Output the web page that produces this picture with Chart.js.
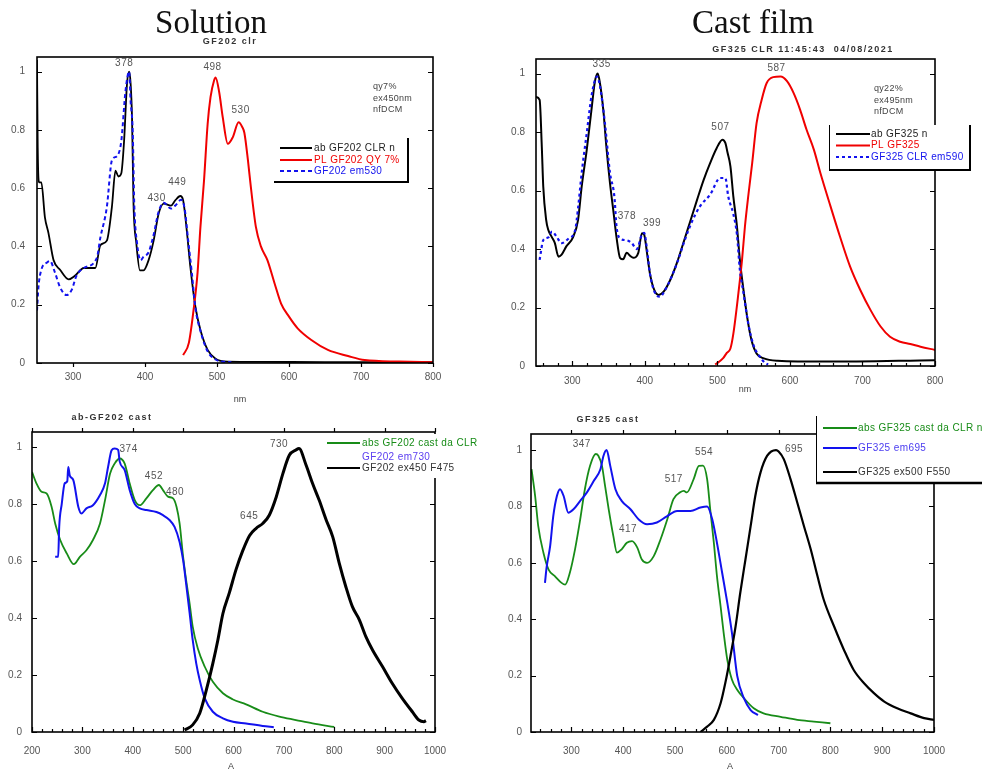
<!DOCTYPE html>
<html>
<head>
<meta charset="utf-8">
<title>GF202 / GF325 spectra</title>
<script src="https://cdn.jsdelivr.net/npm/chart.js@4.4.0/dist/chart.umd.min.js"></script>
<style>
  body { margin: 0; background: #fff; }
  #page { position: relative; width: 982px; height: 771px; overflow: hidden; background: #fff; }
  #page canvas { position: absolute; }
</style>
</head>
<body>
<div id="page">
  <canvas id="solution" width="491" height="410" style="left:0;top:0"></canvas>
  <canvas id="film" width="491" height="410" style="left:491px;top:0"></canvas>
  <canvas id="cast202" width="491" height="371" style="left:0;top:400px"></canvas>
  <canvas id="cast325" width="491" height="371" style="left:491px;top:400px"></canvas>
</div>
<script>
// ---- GF202 in solution (CLR) ----
const solAbsNm  = [250, 251, 253, 256, 261, 266, 273, 282, 294, 303, 315, 325, 331, 338, 347, 354, 359, 363, 367, 371, 375, 378, 380, 382, 384, 388, 393, 398, 405, 412, 419, 426, 436, 442, 449, 453, 458, 463, 470, 477, 487, 498, 515, 560, 650, 800];
const solAbsVal = [1.04, 0.74, 0.62, 0.62, 0.50, 0.445, 0.353, 0.32, 0.287, 0.30, 0.326, 0.326, 0.326, 0.404, 0.42, 0.535, 0.66, 0.64, 0.65, 0.764, 0.958, 1.0, 0.96, 0.84, 0.55, 0.41, 0.318, 0.318, 0.353, 0.42, 0.513, 0.547, 0.54, 0.558, 0.573, 0.558, 0.455, 0.33, 0.193, 0.113, 0.045, 0.015, 0.005, 0.004, 0.003, 0.003];
const solPlNm   = [453, 461, 468, 473, 477, 482, 487, 491, 496, 498, 503, 508, 515, 522, 530, 535, 538, 543, 547, 554, 561, 570, 580, 589, 600, 612, 631, 654, 682, 705, 753, 800];
const solPlVal  = [0.027, 0.07, 0.193, 0.31, 0.467, 0.627, 0.82, 0.912, 0.97, 0.98, 0.93, 0.843, 0.752, 0.775, 0.826, 0.81, 0.79, 0.695, 0.604, 0.467, 0.40, 0.353, 0.273, 0.204, 0.159, 0.119, 0.079, 0.045, 0.024, 0.01, 0.005, 0.003];
const solExNm   = [250, 252, 256, 264, 268, 275, 282, 291, 298, 305, 315, 333, 338, 347, 354, 361, 367, 373, 378, 380, 383, 385, 389, 394, 398, 405, 412, 419, 426, 436, 442, 450, 455, 460, 465, 470, 477, 487, 498, 510, 520];
const solExVal  = [0.18, 0.26, 0.32, 0.345, 0.35, 0.31, 0.26, 0.233, 0.25, 0.30, 0.326, 0.36, 0.43, 0.535, 0.695, 0.71, 0.76, 0.935, 1.0, 0.9, 0.79, 0.55, 0.41, 0.353, 0.365, 0.38, 0.44, 0.52, 0.55, 0.53, 0.54, 0.56, 0.53, 0.42, 0.31, 0.19, 0.11, 0.04, 0.012, 0.004, 0.003];

// ---- GF325 cast film ----
const filmAbsNm  = [250, 255, 258, 260, 264, 267, 272, 276, 281, 285, 292, 301, 308, 313, 320, 327, 331, 335, 338, 343, 347, 352, 357, 361, 366, 370, 375, 380, 384, 391, 396, 399, 403, 407, 413, 419, 426, 435, 444, 453, 462, 472, 481, 490, 499, 507, 511, 514, 518, 522, 527, 531, 536, 541, 547, 554, 564, 583, 650, 800];
const filmAbsVal = [0.92, 0.91, 0.75, 0.614, 0.50, 0.465, 0.44, 0.42, 0.374, 0.38, 0.41, 0.44, 0.50, 0.614, 0.74, 0.888, 0.97, 1.0, 0.97, 0.87, 0.75, 0.625, 0.523, 0.44, 0.369, 0.365, 0.387, 0.376, 0.37, 0.387, 0.454, 0.45, 0.387, 0.317, 0.26, 0.243, 0.254, 0.294, 0.351, 0.42, 0.49, 0.568, 0.636, 0.694, 0.745, 0.774, 0.763, 0.73, 0.683, 0.58, 0.477, 0.363, 0.26, 0.169, 0.089, 0.043, 0.026, 0.018, 0.015, 0.02];
const filmPlNm   = [497, 508, 513, 518, 522, 529, 534, 538, 543, 548, 554, 561, 568, 577, 587, 596, 605, 614, 623, 633, 642, 656, 669, 683, 697, 711, 725, 738, 752, 766, 780, 800];
const filmPlVal  = [0.005, 0.027, 0.045, 0.06, 0.11, 0.249, 0.363, 0.477, 0.59, 0.694, 0.83, 0.91, 0.968, 0.988, 0.99, 0.974, 0.934, 0.877, 0.808, 0.74, 0.66, 0.546, 0.443, 0.34, 0.26, 0.192, 0.135, 0.10, 0.083, 0.075, 0.066, 0.055];
const filmExNm   = [255, 260, 267, 272, 279, 285, 295, 304, 308, 313, 320, 327, 334, 338, 345, 352, 358, 361, 366, 375, 382, 389, 396, 399, 403, 407, 414, 421, 428, 437, 446, 455, 465, 476, 490, 504, 511, 515, 522, 527, 531, 536, 543, 550, 559, 566, 570];
const filmExVal  = [0.363, 0.43, 0.44, 0.46, 0.44, 0.42, 0.436, 0.465, 0.54, 0.66, 0.797, 0.93, 0.99, 0.96, 0.83, 0.66, 0.58, 0.477, 0.436, 0.43, 0.42, 0.40, 0.45, 0.455, 0.40, 0.317, 0.25, 0.237, 0.26, 0.306, 0.363, 0.43, 0.494, 0.546, 0.586, 0.643, 0.643, 0.58, 0.52, 0.45, 0.33, 0.25, 0.14, 0.07, 0.03, 0.01, 0.005];

// ---- ab-GF202 cast ----
const c202AbsNm  = [200, 209, 219, 229, 239, 246, 256, 269, 283, 295, 308, 321, 335, 345, 355, 364, 374, 384, 394, 404, 414, 427, 440, 452, 460, 470, 480, 487, 493, 500, 506, 513, 519, 529, 543, 559, 579, 598, 625, 658, 691, 724, 757, 800];
const c202AbsVal = [0.913, 0.872, 0.843, 0.837, 0.79, 0.732, 0.674, 0.627, 0.589, 0.615, 0.638, 0.674, 0.732, 0.814, 0.907, 0.942, 0.96, 0.942, 0.872, 0.814, 0.796, 0.82, 0.849, 0.867, 0.849, 0.826, 0.82, 0.79, 0.732, 0.615, 0.533, 0.45, 0.37, 0.294, 0.229, 0.176, 0.136, 0.115, 0.097, 0.071, 0.054, 0.042, 0.03, 0.018];
const c202EmNm   = [246, 252, 254, 259, 265, 270, 272, 275, 282, 292, 298, 308, 321, 335, 345, 351, 358, 364, 371, 374, 384, 394, 404, 414, 427, 447, 460, 473, 483, 493, 500, 506, 513, 519, 526, 533, 543, 559, 579, 599, 625, 658, 680];
const c202EmVal  = [0.615, 0.615, 0.72, 0.80, 0.873, 0.88, 0.93, 0.90, 0.884, 0.79, 0.767, 0.785, 0.796, 0.832, 0.873, 0.93, 0.989, 0.995, 0.99, 0.95, 0.919, 0.849, 0.80, 0.785, 0.779, 0.772, 0.761, 0.744, 0.72, 0.667, 0.603, 0.52, 0.416, 0.323, 0.241, 0.182, 0.118, 0.071, 0.048, 0.036, 0.03, 0.021, 0.017];
const c202PlNm   = [503, 519, 533, 546, 559, 569, 579, 592, 605, 618, 632, 645, 658, 671, 685, 698, 711, 724, 730, 744, 757, 770, 784, 797, 810, 823, 836, 850, 863, 876, 896, 915, 935, 955, 968, 978, 982];
const c202PlVal  = [0.007, 0.025, 0.066, 0.147, 0.241, 0.323, 0.416, 0.49, 0.57, 0.635, 0.69, 0.715, 0.732, 0.761, 0.826, 0.907, 0.972, 0.99, 0.995, 0.937, 0.872, 0.814, 0.744, 0.685, 0.592, 0.51, 0.44, 0.393, 0.334, 0.288, 0.229, 0.171, 0.118, 0.071, 0.042, 0.036, 0.04];

// ---- GF325 cast ----
const c325AbsNm  = [223, 230, 236, 246, 256, 268, 281, 288, 297, 307, 317, 326, 336, 347, 352, 359, 365, 372, 381, 388, 397, 407, 417, 427, 436, 446, 459, 472, 485, 497, 510, 517, 523, 536, 546, 554, 562, 568, 575, 581, 588, 594, 601, 610, 620, 633, 652, 671, 704, 736, 768, 800];
const c325AbsVal = [0.932, 0.837, 0.73, 0.636, 0.576, 0.553, 0.529, 0.523, 0.565, 0.648, 0.754, 0.861, 0.944, 0.986, 0.98, 0.944, 0.873, 0.79, 0.695, 0.636, 0.648, 0.671, 0.677, 0.655, 0.612, 0.60, 0.624, 0.683, 0.754, 0.826, 0.85, 0.855, 0.85, 0.897, 0.944, 0.945, 0.897, 0.79, 0.671, 0.553, 0.446, 0.351, 0.256, 0.185, 0.15, 0.12, 0.084, 0.066, 0.054, 0.043, 0.037, 0.031];
const c325EmNm   = [249, 252, 259, 265, 272, 278, 285, 294, 304, 317, 330, 343, 356, 362, 368, 375, 385, 397, 414, 430, 446, 465, 485, 504, 530, 549, 562, 572, 581, 591, 601, 610, 620, 633, 646, 660];
const c325EmVal  = [0.529, 0.582, 0.66, 0.766, 0.837, 0.861, 0.837, 0.778, 0.79, 0.82, 0.85, 0.89, 0.932, 0.98, 1.0, 0.944, 0.861, 0.82, 0.79, 0.754, 0.737, 0.743, 0.766, 0.784, 0.784, 0.796, 0.80, 0.754, 0.671, 0.565, 0.458, 0.351, 0.2, 0.12, 0.078, 0.06];
const c325PlNm   = [549, 562, 575, 588, 597, 607, 617, 626, 636, 646, 655, 665, 678, 695, 700, 710, 723, 736, 749, 762, 775, 787, 807, 826, 845, 865, 884, 904, 929, 955, 981, 1000];
const c325PlVal  = [0.0, 0.019, 0.043, 0.102, 0.173, 0.268, 0.375, 0.494, 0.612, 0.73, 0.837, 0.92, 0.98, 1.0, 0.995, 0.968, 0.897, 0.814, 0.73, 0.648, 0.553, 0.47, 0.375, 0.292, 0.22, 0.173, 0.138, 0.108, 0.084, 0.066, 0.049, 0.043];

// axis ticks
const yTicks    = [0, 0.2, 0.4, 0.6, 0.8, 1];
const topXTicks = [300, 400, 500, 600, 700, 800];
const botXTicks = [200, 300, 400, 500, 600, 700, 800, 900, 1000];

const BLACK = '#000', RED = '#f00000', BLUE = '#1212ee', GREEN = '#188c18';
const SANS = '"Liberation Sans", Arial, sans-serif';

const pts = (xs, ys) => xs.map((x, i) => ({ x: x, y: ys[i] }));

function series(label, xs, ys, color, width, extra) {
  return Object.assign({
    label: label, data: pts(xs, ys), xs: xs, ys: ys,
    borderColor: color, borderWidth: width, pointRadius: 0, fill: false,
    cubicInterpolationMode: 'monotone'
  }, extra || {});
}

// value of a series at a given wavelength (linear between samples)
function valueAt(ds, nm) {
  const xs = ds.xs, ys = ds.ys;
  for (let i = 1; i < xs.length; i++) {
    if (nm <= xs[i]) {
      const t = (nm - xs[i - 1]) / (xs[i] - xs[i - 1]);
      return ys[i - 1] + t * (ys[i] - ys[i - 1]);
    }
  }
  return ys[ys.length - 1];
}

function drawText(ctx, s, x, y, font, color, align, spacing) {
  ctx.font = font;
  ctx.fillStyle = color;
  ctx.textAlign = align || 'center';
  ctx.textBaseline = 'middle';
  ctx.letterSpacing = spacing || '0px';
  ctx.fillText(s, x, y);
  ctx.letterSpacing = '0px';
}

// frame, tick marks, labels and the little legend box
function makeDecor(p) {
  return {
    id: 'decor',
    afterDraw(chart) {
      const ctx = chart.ctx, a = chart.chartArea;
      const xs = chart.scales.x, ys = chart.scales.y;
      const ox = p.left, oy = p.top;
      ctx.save();

      ctx.strokeStyle = '#000';
      ctx.lineWidth = 1.6;
      ctx.strokeRect(a.left, a.top, a.right - a.left, a.bottom - a.top);

      ctx.lineWidth = 1.2;
      ctx.beginPath();
      p.yTicks.forEach(v => {
        const y = Math.round(ys.getPixelForValue(v)) + 0.5;
        ctx.moveTo(a.left, y); ctx.lineTo(a.left + 5, y);
        ctx.moveTo(a.right, y); ctx.lineTo(a.right - 5, y);
      });
      p.xTicks.forEach(v => {
        const x = Math.round(xs.getPixelForValue(v)) + 0.5;
        if (p.bottomOut) { ctx.moveTo(x, a.bottom); ctx.lineTo(x, a.bottom + 4); }
        else { ctx.moveTo(x, a.bottom); ctx.lineTo(x, a.bottom - 5); }
        if (p.topTicks) { ctx.moveTo(x, a.top); ctx.lineTo(x, a.top - 4); }
      });
      if (p.minor) {
        for (let v = Math.ceil(xs.min / p.minor) * p.minor; v < xs.max; v += p.minor) {
          const x = Math.round(xs.getPixelForValue(v)) + 0.5;
          ctx.moveTo(x, a.bottom); ctx.lineTo(x, a.bottom - 3);
        }
      }
      ctx.stroke();

      if (p.heading) drawText(ctx, p.heading.t, p.heading.x - ox, p.heading.y - oy, '33px "Liberation Serif", serif', '#111');
      drawText(ctx, p.title.t, p.title.x - ox, p.title.y - oy, 'bold 9px ' + SANS, '#333', 'center', '1.5px');
      drawText(ctx, p.axisTitle.t, p.axisTitle.x - ox, p.axisTitle.y - oy, '9px ' + SANS, '#444');

      if (p.info) {
        p.info.lines.forEach((s, i) => {
          drawText(ctx, s, p.info.x - ox, p.info.y - oy + i * 11.5, '9px ' + SANS, '#444', 'left', '0.3px');
        });
      }

      // peak wavelengths, written above the curve they belong to
      p.peaks.forEach(pk => {
        const ds = chart.data.datasets[pk.ds];
        const x = xs.getPixelForValue(pk.nm) + pk.dx;
        const y = ys.getPixelForValue(valueAt(ds, pk.nm)) + pk.dy;
        drawText(ctx, String(pk.nm), x, y, '10px ' + SANS, '#555', 'center', '0.5px');
      });

      const lg = p.legend;
      const bx = lg.x - ox, by = lg.y - oy;
      ctx.fillStyle = '#fff';
      ctx.fillRect(bx, by, lg.w, lg.h);
      ctx.strokeStyle = '#000';
      if (lg.left) { ctx.lineWidth = lg.left; ctx.beginPath(); ctx.moveTo(bx + 0.5, by); ctx.lineTo(bx + 0.5, by + lg.h); ctx.stroke(); }
      if (lg.right) { ctx.lineWidth = lg.right; ctx.beginPath(); ctx.moveTo(bx + lg.w, by); ctx.lineTo(bx + lg.w, by + lg.h); ctx.stroke(); }
      if (lg.bottom) { ctx.lineWidth = lg.bottom; ctx.beginPath(); ctx.moveTo(bx, by + lg.h); ctx.lineTo(bx + lg.w + 1, by + lg.h); ctx.stroke(); }
      chart.data.datasets.forEach((ds, i) => {
        const y = by + lg.rows[i];
        if (!ds.noSample) {
          ctx.strokeStyle = ds.borderColor;
          ctx.lineWidth = 2;
          ctx.setLineDash(ds.borderDash || []);
          ctx.beginPath();
          ctx.moveTo(bx + lg.line[0], y);
          ctx.lineTo(bx + lg.line[1], y);
          ctx.stroke();
          ctx.setLineDash([]);
        }
        drawText(ctx, ds.label, bx + lg.tx, y, '10px ' + SANS, ds.textColor || ds.borderColor, 'left', '0.4px');
      });

      ctx.restore();
    }
  };
}

function makeChart(canvasId, p) {
  return new Chart(document.getElementById(canvasId), {
    type: 'line',
    data: { datasets: p.datasets },
    options: {
      responsive: false,
      animation: false,
      devicePixelRatio: 1,
      layout: { autoPadding: false, padding: p.padding },
      plugins: { legend: { display: false }, tooltip: { enabled: false } },
      scales: {
        x: {
          type: 'linear', min: p.xMin, max: p.xMax,
          grid: { display: false, drawTicks: false }, border: { display: false },
          ticks: { font: { family: SANS, size: 10 }, color: '#555', padding: p.xPad, maxRotation: 0, autoSkip: false, callback: v => String(v) },
          afterBuildTicks: s => { s.ticks = p.xTicks.map(v => ({ value: v })); },
          afterFit: s => { s.height = 30; }
        },
        y: {
          type: 'linear', min: 0, max: p.yMax,
          grid: { display: false, drawTicks: false }, border: { display: false },
          ticks: { font: { family: SANS, size: 10 }, color: '#555', padding: p.yPad, callback: v => String(Math.round(v * 10) / 10) },
          afterBuildTicks: s => { s.ticks = p.yTicks.map(v => ({ value: v })); },
          afterFit: s => { s.width = 30; }
        }
      }
    },
    plugins: [makeDecor(p)]
  });
}

// top left: solution
makeChart('solution', {
  left: 0, top: 0,
  padding: { left: 7, top: 57, right: 58, bottom: 17 },
  xMin: 250, xMax: 800, yMax: 1.05, xTicks: topXTicks, yTicks: yTicks,
  xPad: 8, yPad: 12, bottomOut: true,
  heading: { t: 'Solution', x: 211, y: 24 },
  title: { t: 'GF202 clr', x: 230, y: 42 },
  axisTitle: { t: 'nm', x: 240, y: 400 },
  info: { lines: ['qy7%', 'ex450nm', 'nfDCM'], x: 373, y: 87 },
  peaks: [
    { ds: 2, nm: 378, dx: -5, dy: -8 },
    { ds: 1, nm: 498, dx: -3, dy: -10 },
    { ds: 1, nm: 530, dx: 2, dy: -12 },
    { ds: 0, nm: 449, dx: -3, dy: -14 },
    { ds: 2, nm: 430, dx: -10, dy: -7 }
  ],
  legend: { x: 274, y: 138, w: 134, h: 44, rows: [10, 22, 33], line: [6, 38], tx: 40, right: 2, bottom: 2 },
  datasets: [
    series('ab GF202 CLR n', solAbsNm, solAbsVal, BLACK, 1.8, { order: 2, textColor: '#222' }),
    series('PL GF202 QY 7%', solPlNm, solPlVal, RED, 2, { order: 1 }),
    series('GF202 em530', solExNm, solExVal, BLUE, 2, { order: 0, borderDash: [4, 3] })
  ]
});

// top right: cast film
makeChart('film', {
  left: 491, top: 0,
  padding: { left: 15, top: 59, right: 47, bottom: 14 },
  xMin: 250, xMax: 800, yMax: 1.05, xTicks: topXTicks, yTicks: yTicks,
  xPad: 9, yPad: 11, minor: 20,
  heading: { t: 'Cast film', x: 753, y: 24 },
  title: { t: 'GF325 CLR 11:45:43  04/08/2021', x: 803, y: 50 },
  axisTitle: { t: 'nm', x: 745, y: 390 },
  info: { lines: ['qy22%', 'ex495nm', 'nfDCM'], x: 874, y: 89 },
  peaks: [
    { ds: 0, nm: 335, dx: 4, dy: -9 },
    { ds: 1, nm: 587, dx: -4, dy: -8 },
    { ds: 0, nm: 507, dx: -2, dy: -12 },
    { ds: 2, nm: 378, dx: -2, dy: -25 },
    { ds: 2, nm: 399, dx: 8, dy: -10 }
  ],
  legend: { x: 829, y: 125, w: 141, h: 45, rows: [9, 20.5, 32], line: [7, 41], tx: 42, left: 1, right: 2, bottom: 2 },
  datasets: [
    series('ab GF325 n', filmAbsNm, filmAbsVal, BLACK, 2, { order: 2, textColor: '#222' }),
    series('PL GF325', filmPlNm, filmPlVal, RED, 2, { order: 1 }),
    series('GF325 CLR em590', filmExNm, filmExVal, BLUE, 2.2, { order: 0, borderDash: [3, 3] })
  ]
});

// bottom left: GF202 cast
makeChart('cast202', {
  left: 0, top: 400,
  padding: { left: 2, top: 32, right: 56, bottom: 9 },
  xMin: 200, xMax: 1000, yMax: 1.053, xTicks: botXTicks, yTicks: yTicks,
  xPad: 13, yPad: 10, minor: 20, topTicks: true,
  title: { t: 'ab-GF202 cast', x: 112, y: 418 },
  axisTitle: { t: 'A', x: 231, y: 767 },
  peaks: [
    { ds: 0, nm: 374, dx: 9, dy: -9 },
    { ds: 0, nm: 452, dx: -5, dy: -9 },
    { ds: 0, nm: 480, dx: 2, dy: -6 },
    { ds: 2, nm: 645, dx: -7, dy: -12 },
    { ds: 2, nm: 730, dx: -20, dy: -4 }
  ],
  legend: { x: 325, y: 434, w: 166, h: 44, rows: [9, 23, 34], line: [2, 35], tx: 37 },
  datasets: [
    series('abs GF202 cast da CLR', c202AbsNm, c202AbsVal, GREEN, 1.8, { order: 2 }),
    series('GF202 em730', c202EmNm, c202EmVal, BLUE, 2, { order: 1, noSample: true, textColor: '#5a3cf0' }),
    series('GF202 ex450 F475', c202PlNm, c202PlVal, BLACK, 3, { order: 0, textColor: '#333' })
  ]
});

// bottom right: GF325 cast
makeChart('cast325', {
  left: 491, top: 400,
  padding: { left: 10, top: 34, right: 48, bottom: 9 },
  xMin: 222, xMax: 1000, yMax: 1.057, xTicks: botXTicks.slice(1), yTicks: yTicks,
  xPad: 13, yPad: 9, minor: 20, topTicks: true,
  title: { t: 'GF325 cast', x: 608, y: 420 },
  axisTitle: { t: 'A', x: 730, y: 767 },
  peaks: [
    { ds: 0, nm: 347, dx: -14, dy: -10 },
    { ds: 0, nm: 417, dx: -4, dy: -12 },
    { ds: 0, nm: 517, dx: -10, dy: -12 },
    { ds: 0, nm: 554, dx: 1, dy: -13 },
    { ds: 2, nm: 695, dx: 18, dy: -1 }
  ],
  legend: { x: 816, y: 416, w: 175, h: 67, rows: [12, 32, 56], line: [7, 41], tx: 42, left: 1, bottom: 2.5 },
  datasets: [
    series('abs GF325 cast da CLR n', c325AbsNm, c325AbsVal, GREEN, 1.8, { order: 2 }),
    series('GF325 em695', c325EmNm, c325EmVal, BLUE, 2, { order: 1, textColor: '#4a3cf0' }),
    series('GF325 ex500 F550', c325PlNm, c325PlVal, BLACK, 2.2, { order: 0, textColor: '#333' })
  ]
});
</script>
</body>
</html>
